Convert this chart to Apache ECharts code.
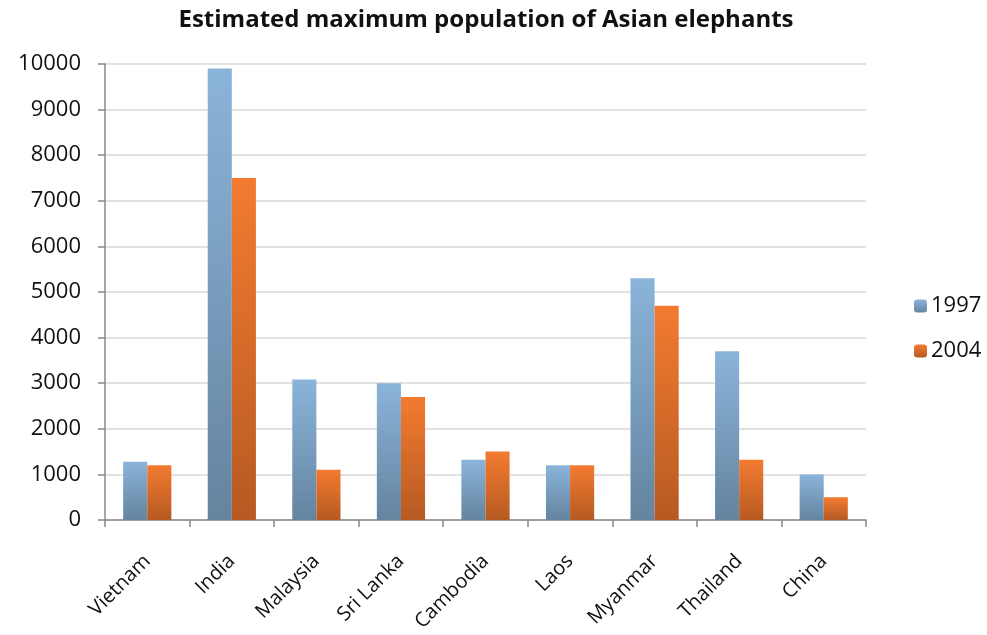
<!DOCTYPE html>
<html><head><meta charset="utf-8">
<script src="https://cdn.jsdelivr.net/npm/echarts@6/dist/echarts.min.js"></script>
<style>html,body{margin:0;padding:0;background:#fff}#c{width:987px;height:635px}</style>
</head><body><div id="c"></div>
<script>
const categories = ["Vietnam","India","Malaysia","Sri Lanka","Cambodia","Laos","Myanmar","Thailand","China"];
const values1997 = [1280, 9900, 3080, 3000, 1320, 1200, 5300, 3700, 1000];
const values2004 = [1200, 7500, 1100, 2700, 1500, 1200, 4700, 1320, 500];
const seriesNames = ["1997", "2004"];
const yTicks = {min: 0, max: 10000, interval: 1000};

const font = "Open Sans";
const blueGrad = new echarts.graphic.LinearGradient(0,0,0,1,[{offset:0,color:'#8bb4da'},{offset:1,color:'#64849f'}]);
const orangeGrad = new echarts.graphic.LinearGradient(0,0,0,1,[{offset:0,color:'#f37b30'},{offset:1,color:'#b65a22'}]);
const chart = echarts.init(document.getElementById('c'));
chart.setOption({
  animation:false,
  title:{text:'Estimated maximum population of Asian elephants',left:481,top:3,textAlign:'center',
    textStyle:{fontFamily:font,fontWeight:'bold',fontSize:24,color:'#111'}},
  legend:{orient:'vertical',left:909,top:290,itemWidth:13,itemHeight:13,itemGap:23,
    data:seriesNames,textStyle:{fontFamily:font,fontSize:22,color:'#111',padding:[0,0,0,-1]}},
  grid:{left:105,right:121,top:64,bottom:115,containLabel:false},
  xAxis:{type:'category',data:categories,boundaryGap:true,
    axisLine:{lineStyle:{color:'#888',width:1.5}},
    axisTick:{show:true,length:7,lineStyle:{color:'#888',width:1.5}},
    axisLabel:{rotate:45,fontFamily:font,fontSize:20,color:'#111',margin:38}},
  yAxis:{type:'value',min:yTicks.min,max:yTicks.max,interval:yTicks.interval,
    axisLine:{show:true,lineStyle:{color:'#888',width:1.5}},
    axisTick:{show:true,length:7,lineStyle:{color:'#888',width:1.5}},
    splitLine:{lineStyle:{color:'#d9d9d9',width:1.5}},
    axisLabel:{fontFamily:font,fontSize:22,color:'#111',margin:24,formatter:v=>String(v)}},
  series:[
    {name:seriesNames[0],type:'bar',data:values1997,barGap:'0%',barCategoryGap:'43%',
      itemStyle:{color:blueGrad}},
    {name:seriesNames[1],type:'bar',data:values2004,barGap:'0%',barCategoryGap:'43%',
      itemStyle:{color:orangeGrad}}
  ]
});
</script></body></html>
